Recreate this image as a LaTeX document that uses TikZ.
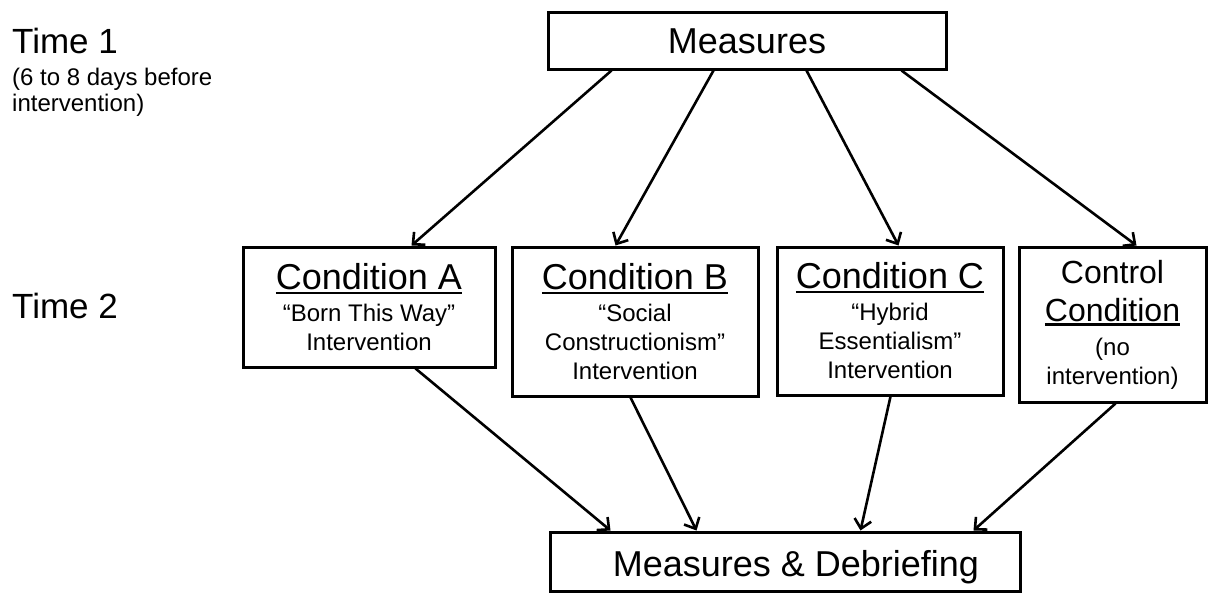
\documentclass[tikz,border=0pt]{standalone}
\usepackage{fontspec}
\setmainfont{Liberation Sans}
\usetikzlibrary{arrows.meta}
\newcommand\myul[1]{\setbox0\hbox{#1}\rlap{\rule[-4.4pt]{\wd0}{2.2pt}}\box0}
\begin{document}
\begin{tikzpicture}[x=1pt,y=-1pt,
  box/.style={draw,line width=3pt,inner sep=0pt,align=center,font=\fontsize{24}{29}\selectfont},
  big/.style={font=\fontsize{36}{40}\selectfont},
  arr/.style={line width=2.6pt,-{Straight Barb[length=9pt,width=17pt]}},
  lbl/.style={anchor=base west,inner sep=0pt,align=left}]
\useasboundingbox (0,0) rectangle (1213,592);

\node[lbl,font=\fontsize{35}{40}\selectfont] (t1) at (12,53) {Time 1};
\node[lbl,font=\fontsize{24}{26}\selectfont] (t1s) at (12,111) {(6 to 8 days before\\intervention)};
\node[lbl,font=\fontsize{35}{40}\selectfont] (t2) at (12,318) {Time 2};

\node[box,big,minimum width=398,minimum height=57,text depth=0pt,text height=26pt] (M) at (747,40.5) {Measures};

\node[box,minimum width=252,minimum height=120] (A) at (369,307)
  {{\fontsize{36}{40}\selectfont\myul{Condition A}}\\[3pt]“Born This Way”\\Intervention};
\node[box,minimum width=246,minimum height=149] (B) at (635,321.5)
  {{\fontsize{36}{40}\selectfont\myul{Condition B}}\\[3pt]“Social\\Constructionism”\\Intervention};
\node[box,minimum width=226,minimum height=148] (C) at (890,321)
  {{\fontsize{36}{40}\selectfont\myul{Condition C}}\\[3pt]“Hybrid\\Essentialism”\\Intervention};
\node[box,minimum width=187,minimum height=155] (K) at (1112.5,324.5)
  {{\fontsize{32}{36}\selectfont Control}\\[9pt]{\fontsize{32}{36}\selectfont\myul{Condition}}\\[5pt](no\\intervention)};

\node[box,big,minimum width=470,minimum height=59,text depth=0pt,text height=30pt] (D) at (785,561.5)
  {\hspace*{22pt}Measures \& Debriefing};

\draw[arr] ([xshift=65pt]M.south west) -- ([xshift=170pt]A.north west);
\draw[arr] ([xshift=167pt]M.south west) -- ([xshift=105pt]B.north west);
\draw[arr] ([xshift=260pt]M.south west) -- ([xshift=123pt]C.north west);
\draw[arr] ([xshift=355pt]M.south west) -- ([xshift=119pt]K.north west);

\draw[arr] ([xshift=174pt]A.south west) -- ([xshift=62pt]D.north west);
\draw[arr] ([xshift=120pt]B.south west) -- ([xshift=148pt]D.north west);
\draw[arr] ([xshift=115pt]C.south west) -- ([xshift=312pt]D.north west);
\draw[arr] ([xshift=98pt]K.south west) -- ([xshift=425pt]D.north west);
\end{tikzpicture}
\end{document}
